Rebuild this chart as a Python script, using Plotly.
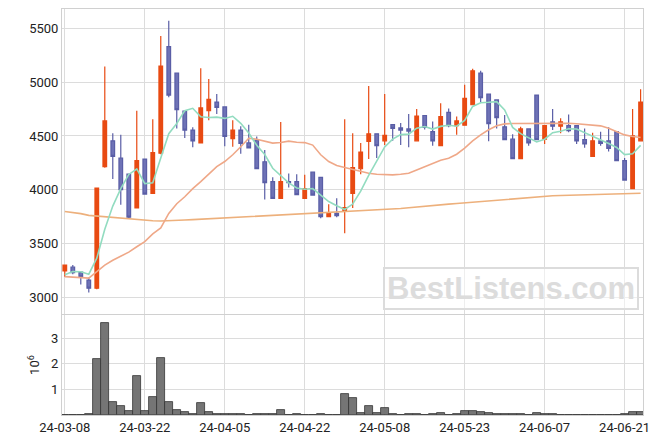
import plotly.graph_objects as go
from plotly.subplots import make_subplots

dates = ["24-03-08", "24-03-11", "24-03-12", "24-03-13", "24-03-14", "24-03-15",
         "24-03-18", "24-03-19", "24-03-20", "24-03-21", "24-03-22",
         "24-03-25", "24-03-26", "24-03-27", "24-03-28", "24-03-29",
         "24-04-01", "24-04-02", "24-04-03", "24-04-04", "24-04-05",
         "24-04-08", "24-04-09", "24-04-11", "24-04-12",
         "24-04-15", "24-04-16", "24-04-17", "24-04-18", "24-04-19",
         "24-04-22", "24-04-23", "24-04-24", "24-04-25", "24-04-26",
         "24-04-29", "24-04-30", "24-05-02", "24-05-03",
         "24-05-07", "24-05-08", "24-05-09", "24-05-10",
         "24-05-13", "24-05-14", "24-05-16", "24-05-17",
         "24-05-20", "24-05-21", "24-05-22", "24-05-23", "24-05-24",
         "24-05-27", "24-05-28", "24-05-29", "24-05-30", "24-05-31",
         "24-06-03", "24-06-04", "24-06-05", "24-06-07",
         "24-06-10", "24-06-11", "24-06-12", "24-06-13", "24-06-14",
         "24-06-17", "24-06-18", "24-06-19", "24-06-20", "24-06-21",
         "24-06-24", "24-06-25"]

open_ = [3245, 3280, 3235, 3160, 3085, 4215, 4455, 4295, 4145, 3830,
         4285, 3965, 4340, 5330, 5085, 4730, 4555, 4435, 4735, 4815,
         4770, 4475, 4555, 4435, 4460, 4260, 4075, 3920, 4075, 4075,
         3920, 4165, 4115, 3750, 3780, 3800, 3965, 4195, 4450, 4520,
         4455, 4605, 4575, 4565, 4455, 4690, 4540, 4410, 4720, 4595,
         4600, 4790, 5085, 4890, 4835, 4585, 4470, 4290, 4565, 4880,
         4470, 4630, 4590, 4595, 4595, 4465, 4310, 4455, 4455, 4540,
         4270, 4010, 4455]
high = [3300, 3300, 3235, 3185, 4015, 5145, 4525, 4510, 4145, 4735,
        4285, 4655, 5430, 5570, 5090, 4735, 4580, 5130, 5030, 4890,
        4770, 4645, 4590, 4605, 4495, 4370, 4115, 4630, 4150, 4145,
        4140, 4165, 4115, 3865, 3920, 4655, 4525, 4435, 4965, 4520,
        4890, 4610, 4620, 4705, 4750, 4695, 4635, 4805, 4755, 4680,
        4975, 5125, 5105, 4890, 4835, 4695, 4515, 4585, 4570, 4880,
        4600, 4750, 4665, 4700, 4595, 4570, 4530, 4540, 4580, 4540,
        4295, 4750, 4935]
low = [3190, 3215, 3120, 3045, 3075, 4205, 4100, 3860, 3730, 3825,
       3955, 3960, 4330, 4860, 4570, 4480, 4395, 4430, 4645, 4705,
       4405, 4400, 4335, 4390, 4190, 3910, 3915, 3915, 4020, 3950,
       3915, 3950, 3735, 3745, 3745, 3595, 3830, 4145, 4285, 4295,
       4415, 4455, 4415, 4395, 4450, 4560, 4410, 4410, 4580, 4510,
       4600, 4785, 4815, 4450, 4570, 4460, 4290, 4290, 4410, 4465,
       4425, 4555, 4525, 4535, 4425, 4390, 4310, 4410, 4355, 4270,
       4085, 4005, 4455]
close = [3300, 3230, 3190, 3085, 4015, 4640, 4310, 4000, 3745, 4270,
         3960, 4345, 5150, 4880, 4745, 4555, 4455, 4760, 4840, 4765,
         4495, 4555, 4430, 4390, 4195, 4065, 3920, 4075, 4065, 3955,
         4010, 3950, 3750, 3785, 3760, 3835, 4205, 4350, 4520, 4410,
         4505, 4570, 4555, 4545, 4685, 4580, 4455, 4680, 4595, 4640,
         4850, 5105, 4855, 4615, 4670, 4465, 4290, 4565, 4435, 4465,
         4595, 4590, 4630, 4550, 4455, 4425, 4455, 4430, 4385, 4270,
         4090, 4500, 4815]

ma5 = [3210, 3240, 3238, 3215, 3364, 3632, 3848, 4010, 4142, 4193,
       4057, 4064, 4294, 4521, 4616, 4735, 4757, 4679, 4671, 4675,
       4663, 4683, 4617, 4527, 4413, 4327, 4200, 4129, 4064, 4016,
       4005, 4011, 3946, 3890, 3851, 3816, 3867, 3987, 4134, 4264,
       4398, 4471, 4512, 4517, 4572, 4587, 4564, 4589, 4599, 4590,
       4644, 4774, 4809, 4813, 4819, 4742, 4579, 4521, 4485, 4444,
       4470, 4530, 4543, 4566, 4564, 4530, 4503, 4463, 4430, 4393,
       4326, 4335, 4412]
ma20 = [3192, 3188, 3184, 3178, 3239, 3300, 3345, 3385, 3420, 3470,
        3518, 3590, 3645, 3780, 3870, 3935, 4010, 4075, 4145, 4215,
        4262, 4325, 4400, 4478, 4470, 4452, 4433, 4439, 4452, 4442,
        4438, 4415, 4325, 4262, 4225, 4206, 4190, 4168, 4153, 4144,
        4138, 4138, 4144, 4153, 4184, 4215, 4246, 4275, 4293, 4330,
        4386, 4454, 4510, 4557, 4594, 4612, 4616, 4617, 4617, 4617,
        4619, 4619, 4616, 4618, 4613, 4609, 4603, 4594, 4572, 4541,
        4510, 4495, 4485]
ma120 = [3797, 3788, 3778, 3762, 3755, 3750, 3745, 3738, 3730, 3722,
         3716, 3711, 3710, 3711, 3714, 3718, 3722, 3726, 3729, 3732,
         3735, 3739, 3743, 3747, 3750, 3755, 3760, 3764, 3768, 3773,
         3777, 3780, 3784, 3787, 3790, 3792, 3796, 3800, 3804, 3808,
         3812, 3818, 3825, 3832, 3840, 3847, 3853, 3859, 3866, 3872,
         3878, 3884, 3890, 3897, 3904, 3910, 3915, 3922, 3929, 3936,
         3942, 3944, 3946, 3948, 3950, 3952, 3954, 3956, 3958, 3960,
         3962, 3964, 3967]

volume_m = [0, 0, 0, 0.04, 2.18, 3.59, 0.50, 0.34, 0.16, 1.53,
            0.16, 0.69, 2.22, 0.50, 0.20, 0.10, 0.04, 0.46, 0.10, 0.03,
            0.03, 0.02, 0.02, 0, 0.02, 0.02, 0.02, 0.19, 0, 0.02,
            0, 0, 0.02, 0, 0, 0.81, 0.65, 0.07, 0.34, 0.07,
            0.26, 0.02, 0, 0.02, 0.02, 0, 0.02, 0.06, 0, 0.02,
            0.14, 0.14, 0.10, 0.06, 0.03, 0.02, 0.02, 0.02, 0, 0.06,
            0.02, 0.02, 0, 0, 0, 0, 0, 0, 0, 0,
            0.02, 0.10, 0.10]

price_ticks = [3000, 3500, 4000, 4500, 5000, 5500]
volume_ticks = [1, 2, 3]
date_ticks = dates[::10]

UP = "#E84A12"
DOWN = "#6E72B6"
GRID = "#DCDCDC"
FONT = dict(family="Roboto, DejaVu Sans, sans-serif", size=13, color="#222222")

fig = make_subplots(rows=2, cols=1, shared_xaxes=True, vertical_spacing=0.0)

fig.add_trace(go.Scatter(x=dates, y=ma120, mode="lines",
                         line=dict(color="#EDB07C", width=1.6),
                         hoverinfo="skip", showlegend=False), row=1, col=1)
fig.add_trace(go.Scatter(x=dates, y=ma20, mode="lines",
                         line=dict(color="#EFA888", width=1.6),
                         hoverinfo="skip", showlegend=False), row=1, col=1)
fig.add_trace(go.Scatter(x=dates, y=ma5, mode="lines",
                         line=dict(color="#92DCC0", width=1.6),
                         hoverinfo="skip", showlegend=False), row=1, col=1)
fig.add_trace(go.Candlestick(
    x=dates, open=open_, high=high, low=low, close=close,
    increasing=dict(line=dict(color=UP, width=1.2), fillcolor=UP),
    decreasing=dict(line=dict(color="#5A5EA6", width=1.2), fillcolor=DOWN),
    whiskerwidth=0, showlegend=False), row=1, col=1)

fig.add_trace(go.Bar(x=dates, y=volume_m,
                     marker=dict(color="rgba(110,110,110,0.95)",
                                 line=dict(color="#333333", width=0.8)),
                     showlegend=False), row=2, col=1)

axis_common = dict(showgrid=True, gridcolor=GRID, gridwidth=1,
                   showline=True, linecolor="#D0D0D0", linewidth=1, mirror=True,
                   zeroline=False, ticks="", tickfont=FONT, automargin=False)

fig.update_xaxes(type="category", categoryorder="array", categoryarray=dates,
                 range=[-0.35, 72.3], tickmode="array", tickvals=date_ticks,
                 ticktext=date_ticks, **axis_common)
fig.update_xaxes(showticklabels=False, rangeslider_visible=False, row=1, col=1)
fig.update_xaxes(showticklabels=True, row=2, col=1)

fig.update_yaxes(range=[2845, 5680], tickmode="array", tickvals=price_ticks,
                 domain=[0.2488, 1.0], **axis_common, row=1, col=1)
fig.update_yaxes(range=[0, 3.91], tickmode="array", tickvals=volume_ticks,
                 domain=[0.0, 0.2463],
                 title=dict(text="10<sup>6</sup>", font=FONT, standoff=8),
                 **axis_common, row=2, col=1)

fig.add_annotation(x=0.7735, y=0.3116, xref="paper", yref="paper",
                   xanchor="center", yanchor="middle",
                   text="<b>BestListens.com</b>", showarrow=False,
                   font=dict(family="Liberation Sans, Arial, sans-serif", size=31,
                             color="#DCDCDC"),
                   bordercolor="#DCDCDC", borderwidth=2, borderpad=2,
                   bgcolor="rgba(255,255,255,0.5)")

# the page body has an 8px margin, so the figure is sized/offset to compensate
fig.update_layout(width=655, height=436,
                  margin=dict(l=54, r=20, t=1, b=29),
                  paper_bgcolor="white", plot_bgcolor="white",
                  bargap=0, boxgap=0.35, showlegend=False,
                  font=FONT, hovermode=False)

fig.write_html("out.html")
